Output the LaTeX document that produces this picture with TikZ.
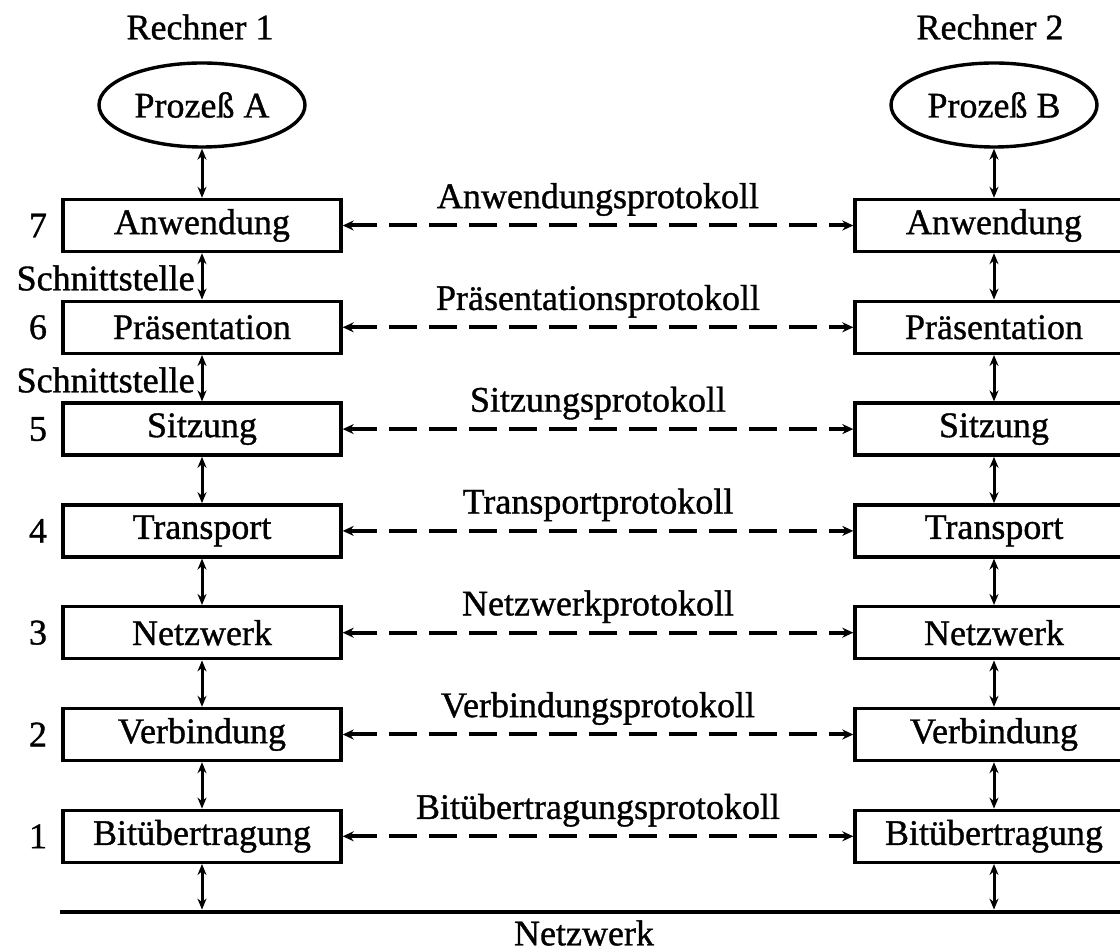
\documentclass[tikz,border=0pt]{standalone}
\usepackage{fontspec}
\setmainfont{Liberation Serif}[FakeBold=1]
\usetikzlibrary{arrows.meta,shapes.geometric}
\begin{document}
\begin{tikzpicture}[x=0.5pt,y=-0.5pt,
  font=\fontsize{18pt}{20pt}\selectfont,
  layer/.style={draw,line width=1.7pt,minimum width=139pt,minimum height=26pt,inner sep=0pt},
  proc/.style={draw,ellipse,line width=1.7pt,minimum width=103pt,minimum height=42pt,inner sep=0pt},
  iface/.style={line width=1.5pt,{Stealth[length=5.5pt,width=4.5pt]}-{Stealth[length=5.5pt,width=4.5pt]}},
  peer/.style={line width=2pt,dash pattern=on 14pt off 6pt,{Stealth[length=5.5pt,width=5pt]}-{Stealth[length=5.5pt,width=5pt]}},
  plabel/.style={midway,yshift=13pt},
  txt/.style={inner sep=0pt}
]
\clip (0,0) rectangle (1120,951);

% computer headings and processes
\node[txt] (h1) at (200,27) {Rechner 1};
\node[txt] (h2) at (990,27) {Rechner 2};
\node[proc] (pa) at (202,105) {Prozeß A};
\node[proc] (pb) at (994,105) {Prozeß B};

% the seven layers on both sides with their peer protocols
\foreach \i/\name/\proto [count=\k from 0] in {
  7/Anwendung/Anwendungsprotokoll,
  6/Präsentation/Präsentationsprotokoll,
  5/Sitzung/Sitzungsprotokoll,
  4/Transport/Transportprotokoll,
  3/Netzwerk/Netzwerkprotokoll,
  2/Verbindung/Verbindungsprotokoll,
  1/Bitübertragung/Bitübertragungsprotokoll} {
  \pgfmathsetmacro\yy{225.5+101.8*\k}
  \node[layer] (l\i) at (202,\yy) {\name};
  \node[layer] (r\i) at (994,\yy) {\name};
  \node[txt] (n\i) at (38,\yy) {\i};
  \draw[peer] (l\i) -- (r\i) node[plabel] {\proto};
}

% interfaces between neighbouring layers
\draw[iface] (pa) -- (l7);
\draw[iface] (pb) -- (r7);
\foreach \u/\d in {7/6,6/5,5/4,4/3,3/2,2/1} {
  \draw[iface] (l\u) -- (l\d);
  \draw[iface] (r\u) -- (r\d);
}
\node[txt,anchor=east] (s1) at (195,278) {Schnittstelle};
\node[txt,anchor=east] (s2) at (195,380) {Schnittstelle};

% physical network
\coordinate (netA) at (60,912);
\coordinate (netB) at (1130,912);
\draw[line width=2.2pt] (netA) -- (netB);
\draw[iface,shorten >=1.2pt] (l1) -- (l1 |- netA);
\draw[iface,shorten >=1.2pt] (r1) -- (r1 |- netA);
\node[txt] (net) at (584,933) {Netzwerk};
\end{tikzpicture}
\end{document}
